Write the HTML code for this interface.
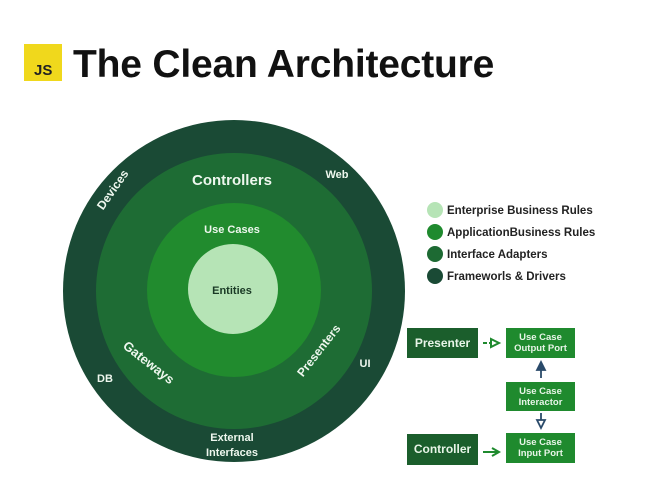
<!DOCTYPE html>
<html><head><style>
body{margin:0;width:664px;height:499px;background:#fff;overflow:hidden;position:relative;font-family:"Liberation Sans",sans-serif;}
.t{position:absolute;font-weight:bold;white-space:nowrap;}
.b{position:absolute;color:#e8f5e8;font-weight:bold;display:flex;align-items:center;justify-content:center;text-align:center;line-height:11px;}
</style></head><body>
<div style="position:absolute;left:24px;top:44px;width:38px;height:37px;background:#f0d81c;"></div>
<div class="t" style="left:34px;top:62px;font-size:15px;color:#222;">JS</div>
<div class="t" style="left:73px;top:43px;font-size:39px;color:#111;letter-spacing:-0.2px;">The Clean Architecture</div>
<svg width="664" height="499" style="position:absolute;left:0;top:0">
<circle cx="234" cy="291" r="171" fill="#1a4a35"/>
<circle cx="234" cy="291" r="138" fill="#1e6c34"/>
<circle cx="234" cy="290" r="87" fill="#218b2e"/>
<circle cx="233" cy="289" r="45" fill="#b6e4b6"/>
<g font-family="Liberation Sans" font-weight="bold" fill="#eef7ee" text-anchor="middle">
<text x="232" y="185" font-size="15">Controllers</text>
<text x="337" y="178" font-size="11">Web</text>
<text x="232" y="233" font-size="11">Use Cases</text>
<text x="232" y="294" font-size="11" fill="#1a3a25">Entities</text>
<text x="105" y="382" font-size="11">DB</text>
<text x="365" y="367" font-size="11">UI</text>
<text x="232" y="441" font-size="11">External</text>
<text x="232" y="456" font-size="11">Interfaces</text>
<text transform="translate(116,192) rotate(-55)" font-size="12">Devices</text>
<text transform="translate(146,366) rotate(38)" font-size="13">Gateways</text>
<text transform="translate(322,353) rotate(-52)" font-size="12">Presenters</text>
</g>
<circle cx="435" cy="210" r="8" fill="#b6e4b6"/>
<circle cx="435" cy="232" r="8" fill="#1f8a2e"/>
<circle cx="435" cy="254" r="8" fill="#1d6a33"/>
<circle cx="435" cy="276" r="8" fill="#1a4a35"/>
<g font-family="Liberation Sans" font-weight="bold" font-size="11.5" fill="#222">
<text x="447" y="214">Enterprise Business Rules</text>
<text x="447" y="236">ApplicationBusiness Rules</text>
<text x="447" y="258">Interface Adapters</text>
<text x="447" y="280">Frameworls &amp; Drivers</text>
</g>
<g stroke="#1f8a2e" stroke-width="2" fill="none">
<line x1="483" y1="343" x2="491" y2="343" stroke-dasharray="4 2"/><polygon points="491,339 499,343 491,347" fill="#fff"/>
<line x1="483" y1="452" x2="497" y2="452"/><polyline points="492,448 499,452 492,456"/>
</g>
<g stroke="#2a4a6a" stroke-width="1.8" fill="none">
<line x1="541" y1="378" x2="541" y2="368"/><polygon points="537,370 541,362 545,370" fill="#2a4a6a"/>
<line x1="541" y1="413" x2="541" y2="420"/><polygon points="537,420 541,428 545,420" fill="#fff"/>
</g>
</svg>
<div class="b" style="left:407px;top:328px;width:71px;height:30px;background:#1b5e2c;font-size:12px;">Presenter</div>
<div class="b" style="left:506px;top:328px;width:69px;height:30px;background:#1f8a2e;font-size:9.5px;">Use Case<br>Output Port</div>
<div class="b" style="left:506px;top:382px;width:69px;height:29px;background:#1f8a2e;font-size:9.5px;">Use Case<br>Interactor</div>
<div class="b" style="left:506px;top:433px;width:69px;height:30px;background:#1f8a2e;font-size:9.5px;">Use Case<br>Input Port</div>
<div class="b" style="left:407px;top:434px;width:71px;height:31px;background:#1b5e2c;font-size:12px;">Controller</div>
</body></html>
